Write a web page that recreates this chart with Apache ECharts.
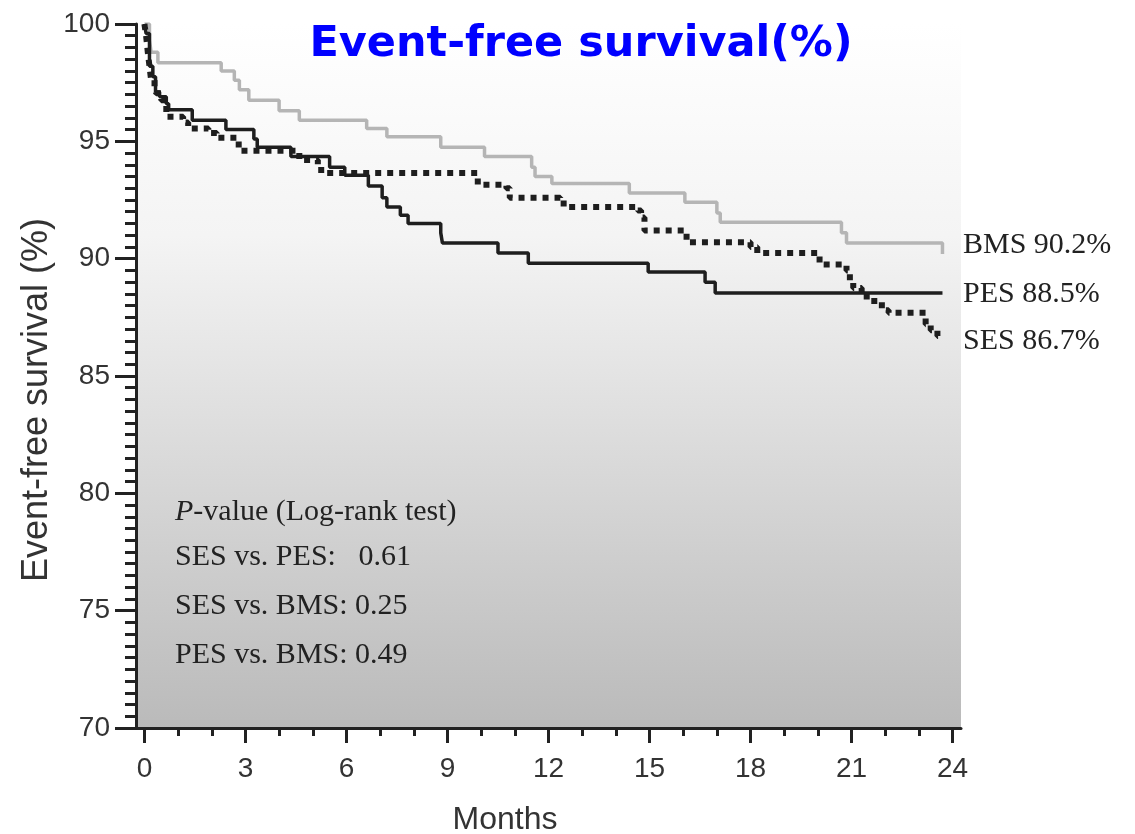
<!DOCTYPE html>
<html>
<head>
<meta charset="utf-8">
<title>Event-free survival</title>
<script src="https://cdn.jsdelivr.net/npm/echarts@6/dist/echarts.min.js"></script>
<style>
  html, body { margin: 0; padding: 0; background: #fff; }
  #chart { width: 1135px; height: 834px; }
</style>
</head>
<body>
<div id="chart"></div>
<script>
// Kaplan-Meier steps: [month, survival %]
const bmsData = [
  [0, 100], [0.15, 99.3], [0.2, 98.8], [0.4, 98.35], [2.28, 98.0], [2.67, 97.6],
  [2.82, 97.2], [3.1, 96.75], [4.0, 96.3], [4.6, 95.9], [6.6, 95.55], [7.2, 95.2],
  [8.8, 94.75], [10.1, 94.35], [11.5, 93.9], [11.6, 93.5], [12.1, 93.2], [14.4, 92.8],
  [16.05, 92.4], [17.0, 91.95], [17.1, 91.55], [20.7, 91.1], [20.85, 90.67], [23.7, 90.2]
]
const pesData = [
  [0, 100], [0.05, 99.6], [0.15, 98.2], [0.25, 97.75], [0.33, 97.1], [0.45, 96.9],
  [0.65, 96.6], [0.72, 96.35], [1.42, 95.9], [2.42, 95.5], [3.25, 95.1], [3.35, 94.75],
  [4.35, 94.35], [5.5, 93.9], [5.95, 93.55], [6.65, 93.1], [7.06, 92.6], [7.2, 92.2],
  [7.6, 91.85], [7.83, 91.5], [8.8, 91.1], [8.85, 90.67], [10.5, 90.24], [11.4, 89.8],
  [14.96, 89.43], [16.65, 89.0], [16.95, 88.54], [23.7, 88.54]
]
const sesData = [
  [0, 100], [0.05, 99.5], [0.1, 98.8], [0.15, 98.2], [0.2, 97.6], [0.3, 97.3],
  [0.35, 97.05], [0.5, 96.75], [0.65, 96.05], [1.15, 95.8], [1.3, 95.55], [1.9, 95.35],
  [2.15, 95.15], [2.8, 94.6], [4.6, 94.2], [5.15, 94.0], [5.25, 93.65], [9.9, 93.15],
  [10.75, 93.0], [10.85, 92.6], [12.35, 92.5], [12.45, 92.2], [14.65, 92.05], [14.75, 91.75],
  [14.85, 91.2], [16.1, 90.7], [18.0, 90.5], [18.2, 90.24], [20.05, 89.75], [20.85, 89.5],
  [20.95, 89.0], [21.05, 88.75], [21.3, 88.55], [21.45, 88.2], [21.9, 87.8], [22.1, 87.7],
  [23.2, 87.2], [23.35, 86.95], [23.55, 86.7], [23.65, 86.7]
]

const xTicks = [0, 3, 6, 9, 12, 15, 18, 21, 24]
const xMinorTicks = [1, 2, 4, 5, 7, 8, 10, 11, 13, 14, 16, 17, 19, 20, 22, 23]
const endLabels = ['BMS 90.2%', 'PES 88.5%', 'SES 86.7%']
const pLines = ['SES vs. PES:   0.61', 'SES vs. BMS: 0.25', 'PES vs. BMS: 0.49']

const axisColor = '#222'
const labelFont = 'Liberation Sans, Arial, sans-serif'
const serifFont = 'Liberation Serif, Times New Roman, serif'

const chart = echarts.init(document.getElementById('chart'))

chart.setOption({
  animation: false,
  grid: {
    left: 136, top: 24, right: 174, bottom: 106,
    show: true,
    borderWidth: 0,
    backgroundColor: new echarts.graphic.LinearGradient(0, 0, 0, 1, [
      {offset: 0, color: '#ffffff'},
      {offset: 0.3, color: '#f4f4f4'},
      {offset: 1, color: '#bababa'}
    ])
  },
  xAxis: [
    {
      type: 'value',
      min: -0.25,
      max: 24.25,
      splitLine: {show: false},
      axisLine: {onZero: false, lineStyle: {color: axisColor, width: 3}},
      axisTick: {customValues: xTicks, length: 15, lineStyle: {color: axisColor, width: 3}},
      axisLabel: {
        customValues: xTicks,
        margin: 27,
        color: '#333',
        fontSize: 28,
        fontFamily: labelFont
      }
    },
    {
      // minor month ticks
      type: 'value',
      min: -0.25,
      max: 24.25,
      position: 'bottom',
      splitLine: {show: false},
      axisLine: {show: false, onZero: false},
      axisTick: {customValues: xMinorTicks, length: 8, lineStyle: {color: axisColor, width: 3}},
      axisLabel: {show: false}
    }
  ],
  yAxis: {
    type: 'value',
    min: 70,
    max: 100,
    interval: 5,
    splitLine: {show: false},
    axisLine: {show: true, onZero: false, lineStyle: {color: axisColor, width: 3}},
    axisTick: {show: true, length: 21, lineStyle: {color: axisColor, width: 3}},
    minorTick: {show: true, splitNumber: 10, length: 11, lineStyle: {color: axisColor, width: 3}},
    axisLabel: {
      margin: 26,
      color: '#333',
      fontSize: 28,
      fontFamily: labelFont
    }
  },
  series: [
    {
      name: 'BMS',
      type: 'line',
      step: 'end',
      data: bmsData,
      showSymbol: false,
      lineStyle: {color: '#b5b5b5', width: 3.5}
    },
    {
      name: 'PES',
      type: 'line',
      step: 'end',
      data: pesData,
      showSymbol: false,
      lineStyle: {color: '#1e1e1e', width: 3.5}
    },
    {
      name: 'SES',
      type: 'line',
      step: 'end',
      data: sesData,
      showSymbol: false,
      lineStyle: {color: '#1e1e1e', width: 6, type: [6, 6], cap: 'butt'}
    }
  ],
  graphic: [
    {
      type: 'text',
      x: 581, y: 45,
      style: {
        text: 'Event-free survival(%)',
        fill: '#0000ff',
        font: 'bold 43px "DejaVu Sans", sans-serif',
        align: 'center',
        verticalAlign: 'middle'
      }
    },
    {
      type: 'text',
      x: 37, y: 400,
      rotation: Math.PI / 2,
      style: {
        text: 'Event-free survival (%)',
        fill: '#333',
        font: '36px ' + labelFont,
        align: 'center',
        verticalAlign: 'middle'
      }
    },
    {
      type: 'text',
      x: 505, y: 820,
      style: {
        text: 'Months',
        fill: '#333',
        font: '32px ' + labelFont,
        align: 'center',
        verticalAlign: 'middle'
      }
    },
    {
      type: 'text',
      x: 175, y: 512,
      style: {
        text: '{i|P}-value (Log-rank test)',
        fill: '#222',
        font: '30px ' + serifFont,
        verticalAlign: 'middle',
        rich: {i: {fontStyle: 'italic', fontSize: 30, fontFamily: serifFont, fill: '#222'}}
      }
    },
    ...pLines.map((t, i) => ({
      type: 'text',
      x: 175, y: 557 + i * 49,
      style: {
        text: t,
        fill: '#222',
        font: '30px ' + serifFont,
        verticalAlign: 'middle'
      }
    })),
    ...endLabels.map((t, i) => ({
      type: 'text',
      x: 963, y: [245, 294, 341][i],
      style: {
        text: t,
        fill: '#222',
        font: '30px ' + serifFont,
        verticalAlign: 'middle'
      }
    }))
  ]
})
</script>
</body>
</html>
